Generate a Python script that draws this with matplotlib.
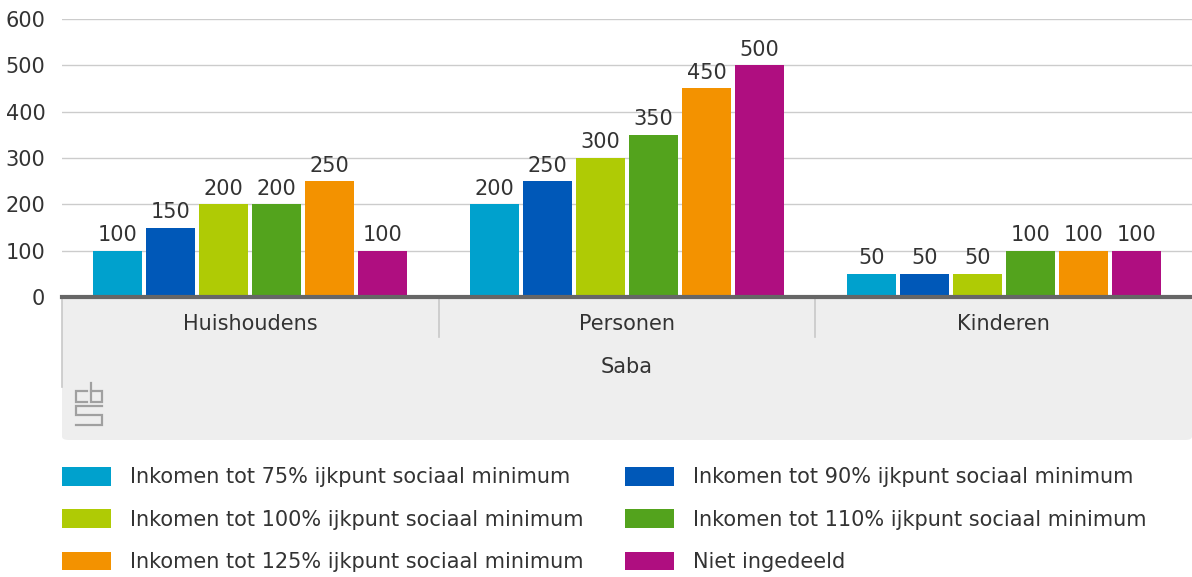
import matplotlib.pyplot as plt
import matplotlib.transforms as mtransforms
from matplotlib.patches import FancyBboxPatch
import numpy as np

# data
categorieen = ['Huishoudens', 'Personen', 'Kinderen']
reeksen = ['Inkomen tot 75% ijkpunt sociaal minimum',
           'Inkomen tot 90% ijkpunt sociaal minimum',
           'Inkomen tot 100% ijkpunt sociaal minimum',
           'Inkomen tot 110% ijkpunt sociaal minimum',
           'Inkomen tot 125% ijkpunt sociaal minimum',
           'Niet ingedeeld']
waarden = [
    [100, 200, 50],
    [150, 250, 50],
    [200, 300, 50],
    [200, 350, 100],
    [250, 450, 100],
    [100, 500, 100],
]
groep = 'Saba'
kleuren = ['#00a1cd', '#0058b8', '#afcb05', '#53a31d', '#f39200', '#af0e80']

W, H = 1192, 577
plt.rcParams['font.family'] = 'DejaVu Sans'
tekstkleur = '#333333'
fs = 15

fig = plt.figure(figsize=(W / 100, H / 100), dpi=100)

ax = fig.add_axes([62 / W, (H - 297) / H, (W - 62) / W, 278 / H])
ax.set_facecolor('none')

# grijs paneel onder de as
paneel = FancyBboxPatch((62 / W, (H - 440) / H), (W - 62) / W, 142 / H,
                        boxstyle='round,pad=0,rounding_size=0.006',
                        transform=fig.transFigure, facecolor='#eeeeee',
                        edgecolor='none', zorder=-10, clip_on=False)
ax.add_artist(paneel)

x = np.arange(len(categorieen))
pitch = 0.1406
breedte = 0.13
for i, (naam, vals) in enumerate(zip(reeksen, waarden)):
    bars = ax.bar(x + (i - 2.5) * pitch, vals, breedte, color=kleuren[i],
                  label=naam, zorder=3)
    ax.bar_label(bars, padding=4, fontsize=fs, color=tekstkleur)

ax.set_xlim(-0.5, 2.5)
ax.set_ylim(0, 600)
ax.set_yticks(range(0, 601, 100))
ax.yaxis.grid(True, color='#cccccc', lw=1, zorder=0)
ax.set_axisbelow(True)
ax.axhline(0, color='#666666', lw=3, zorder=4, clip_on=False)
for s in ax.spines.values():
    s.set_visible(False)
ax.set_xticks(x)
ax.set_xticklabels(categorieen)
ax.tick_params(axis='x', length=0, pad=12, labelsize=fs, labelcolor=tekstkleur)
ax.tick_params(axis='y', length=0, pad=12, labelsize=fs, labelcolor=tekstkleur)

# scheidingslijnen in paneel
trans = mtransforms.blended_transform_factory(ax.transData, ax.transAxes)
for sx in [0.5, 1.5]:
    ax.plot([sx, sx], [0, -(337 - 297) / 278], color='#c8c8c8', lw=1.2,
            transform=trans, clip_on=False)
ax.plot([0, 0], [0, -(387 - 297) / 278], color='#c8c8c8', lw=1.2,
        transform=ax.transAxes, clip_on=False)
ax.text(0.5, -(367 - 297) / 278, groep, transform=ax.transAxes, ha='center',
        va='center', fontsize=fs, color=tekstkleur)

# cbs-logo (ruwe benadering)
logo = [
    [(87, 391), (76, 391), (76, 402), (87, 402)],
    [(91, 383), (91, 402), (102, 402), (102, 391), (91, 391)],
    [(102, 406), (76, 406), (76, 415), (102, 415), (102, 425), (76, 425)],
]
for lijn in logo:
    px = [p[0] / W for p in lijn]
    py = [(H - p[1]) / H for p in lijn]
    ax.plot(px, py, color='#a0a0a0', lw=1.6, transform=fig.transFigure,
            clip_on=False, solid_joinstyle='miter')

# legenda, rijsgewijs
handles, labels = ax.get_legend_handles_labels()
volgorde = [0, 2, 4, 1, 3, 5]
fig.legend([handles[k] for k in volgorde], [labels[k] for k in volgorde],
           ncol=2, loc='upper left', bbox_to_anchor=(62 / W, (H - 467) / H),
           frameon=False, fontsize=fs, labelcolor=tekstkleur,
           handlelength=2.35, handleheight=1.0, handletextpad=0.9,
           columnspacing=2.0, labelspacing=1.05, borderaxespad=0, borderpad=0)

fig.savefig('out.png', dpi=100)
